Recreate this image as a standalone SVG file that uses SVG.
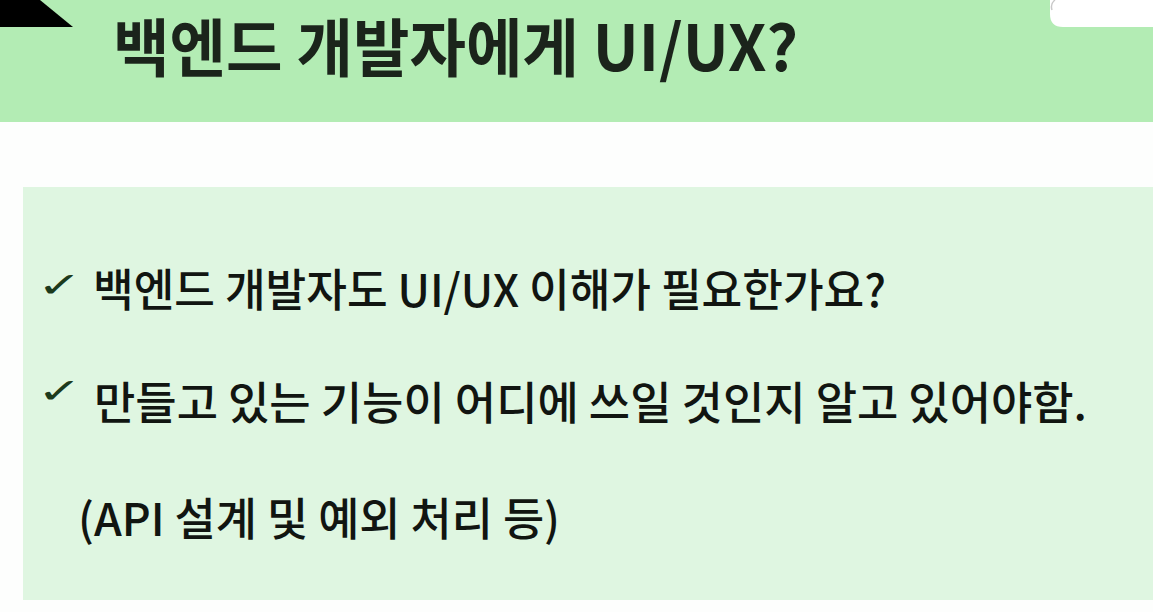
<svg xmlns="http://www.w3.org/2000/svg" width="1153" height="612" viewBox="0 0 1153 612">
<style>
.title{font-family:"Noto Sans CJK KR","Noto Sans",sans-serif;font-weight:700;font-size:63px;fill:#1b241b}
.body{font-family:"Noto Sans CJK KR","Noto Sans",sans-serif;font-weight:500;font-size:45px;fill:#111511}
.check{font-family:"DejaVu Sans",sans-serif;font-size:50px;fill:#1c3a1c}
</style>
<rect x="0" y="0" width="1153" height="612" fill="#fdfefd"/>
<g id="header">
<rect x="0" y="0" width="1153" height="122" fill="#b3ecb4"/>
<polygon points="0,0 40,0 73,27 0,27" fill="#000000"/>
<path d="M1050,0 L1050,14 Q1050,27 1063,27 L1153,27 L1153,0 Z" fill="#ffffff"/>
<path d="M1055,0 Q1050,4 1052,10" fill="none" stroke="#c8c8c8" stroke-width="1.5"/>
<text class="title" x="113" y="71" textLength="685" lengthAdjust="spacingAndGlyphs">백엔드 개발자에게 UI/UX?</text>
</g>
<g id="panel">
<rect x="23" y="187" width="1130" height="413" fill="#dff6e1"/>
</g>
<g id="bullet1">
<text class="check" transform="translate(37,297) scale(1.08,0.7)">✓</text>
<text class="body" x="93" y="307" textLength="793" lengthAdjust="spacingAndGlyphs">백엔드 개발자도 UI/UX 이해가 필요한가요?</text>
</g>
<g id="bullet2">
<text class="check" transform="translate(37,403) scale(1.08,0.7)">✓</text>
<text class="body" x="94" y="420" textLength="993" lengthAdjust="spacingAndGlyphs">만들고 있는 기능이 어디에 쓰일 것인지 알고 있어야함.</text>
</g>
<g id="note">
<text class="body" x="78" y="536" textLength="482" lengthAdjust="spacingAndGlyphs">(API 설계 및 예외 처리 등)</text>
</g>
<g id="connectors"/>
</svg>
